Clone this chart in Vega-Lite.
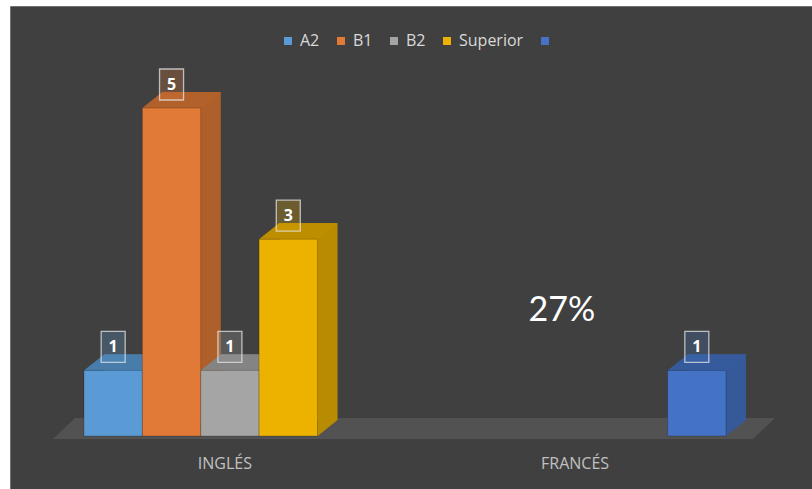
{
  "$schema": "https://vega.github.io/schema/vega-lite/v6.json",
  "width": 802,
  "height": 483,
  "autosize": {"type": "none"},
  "padding": {"left": 10, "top": 6, "right": 0, "bottom": 0},
  "background": "#ffffff",
  "config": {
    "view": {"fill": "#404040", "stroke": "#707070", "strokeWidth": 1},
    "font": "Open Sans"
  },
  "data": {
    "values": [
      {"category": "INGLÉS", "series": "A2", "value": 1},
      {"category": "INGLÉS", "series": "B1", "value": 5},
      {"category": "INGLÉS", "series": "B2", "value": 1},
      {"category": "INGLÉS", "series": "Superior", "value": 3},
      {"category": "FRANCÉS", "series": " ", "value": 1}
    ]
  },
  "encoding": {
    "x": {
      "field": "series", "type": "nominal",
      "scale": {"domain": ["A2", "B1", "B2", "Superior", "e1", "gap", "f1", "f2", "f3", "f4", " "], "range": [74, 716], "paddingInner": 0, "paddingOuter": 0},
      "axis": {"title": null, "values": ["B2", "f3"], "labelExpr": "datum.value == 'B2' ? 'INGLÉS' : 'FRANCÉS'", "labelColor": "#c0c0c0", "labelFontSize": 16, "labelFont": "Open Sans", "ticks": false, "domain": false, "offset": -40, "labelPadding": 6, "labelOffset": -5, "labelAngle": 0}
    },
    "y": {"field": "value", "type": "quantitative", "scale": {"domain": [-0.808, 6.555], "nice": false, "zero": false}, "axis": null}
  },
  "layer": [
    {
      "transform": [{"filter": "datum.series == 'A2'"}],
      "mark": {"type": "point", "shape": "M-60.2,3 L639.8,3 L661.8,-18 L-38.2,-18 Z", "size": 4, "filled": true, "color": "#525252", "strokeWidth": 0, "opacity": 1},
      "encoding": {"y": {"datum": 0, "type": "quantitative"}}
    },
    {
      "mark": {"type": "bar", "xOffset": 20, "yOffset": -16, "y2Offset": -16},
      "encoding": {
        "color": {
          "field": "series", "type": "nominal",
          "scale": {"domain": ["A2", "B1", "B2", "Superior", " "], "range": ["#5B9BD5", "#E07A36", "#A5A5A5", "#EDB200", "#4472C4"]},
          "legend": {"orient": "none", "legendX": 270, "legendY": 27, "direction": "horizontal", "title": null, "symbolType": "square", "symbolSize": 64, "symbolStrokeWidth": 0, "labelColor": "#d9d9d9", "labelFontSize": 16, "labelFont": "Open Sans", "columnPadding": 13, "labelOffset": 4, "padding": 0}
        }
      }
    },
    {
      "mark": {"type": "point", "shape": "M29.2,0 L49.2,-16 L29.2,-16 Z", "size": 4, "filled": true, "strokeWidth": 0, "opacity": 1},
      "encoding": {"y": {"datum": 0, "type": "quantitative"}, "color": {"field": "series", "type": "nominal"}}
    },
    {
      "mark": {"type": "bar", "xOffset": 20, "yOffset": -16, "y2Offset": -16, "color": "#000000", "opacity": 0.22}
    },
    {
      "mark": {"type": "point", "shape": "M29.2,0 L49.2,-16 L29.2,-16 Z", "size": 4, "filled": true, "strokeWidth": 0, "color": "#000000", "opacity": 0.22},
      "encoding": {"y": {"datum": 0, "type": "quantitative"}}
    },
    {
      "mark": {"type": "point", "shape": "M-29.2,0 L29.2,0 L49.2,-16 L-9.2,-16 Z", "size": 4, "filled": true, "strokeWidth": 0, "opacity": 1},
      "encoding": {"color": {"field": "series", "type": "nominal"}}
    },
    {
      "mark": {"type": "point", "shape": "M-29.2,0 L29.2,0 L49.2,-16 L-9.2,-16 Z", "size": 4, "filled": true, "strokeWidth": 0, "color": "#000000", "opacity": 0.2}
    },
    {
      "mark": {"type": "bar", "stroke": "#000000", "strokeOpacity": 0.2, "strokeWidth": 1},
      "encoding": {"color": {"field": "series", "type": "nominal"}}
    },
    {
      "mark": {"type": "point", "shape": "M-12,-39 L12,-39 L12,-8 L-12,-8 Z", "size": 4, "filled": true, "fillOpacity": 0.25, "stroke": "#e6e6e6", "strokeOpacity": 0.75, "strokeWidth": 1.3, "opacity": 1},
      "encoding": {"color": {"field": "series", "type": "nominal"}}
    },
    {
      "mark": {"type": "text", "dy": -23.5, "fontSize": 16, "fontWeight": "bold", "font": "Open Sans", "color": "#ffffff", "baseline": "middle", "align": "center"},
      "encoding": {"text": {"field": "value", "type": "quantitative"}}
    },
    {
      "transform": [{"filter": "datum.category == 'FRANCÉS'"}],
      "mark": {"type": "text", "dx": -135, "dy": -59, "fontSize": 34, "font": "Lato", "color": "#ffffff", "baseline": "middle", "align": "center"},
      "encoding": {"text": {"value": "27%"}}
    }
  ]
}
